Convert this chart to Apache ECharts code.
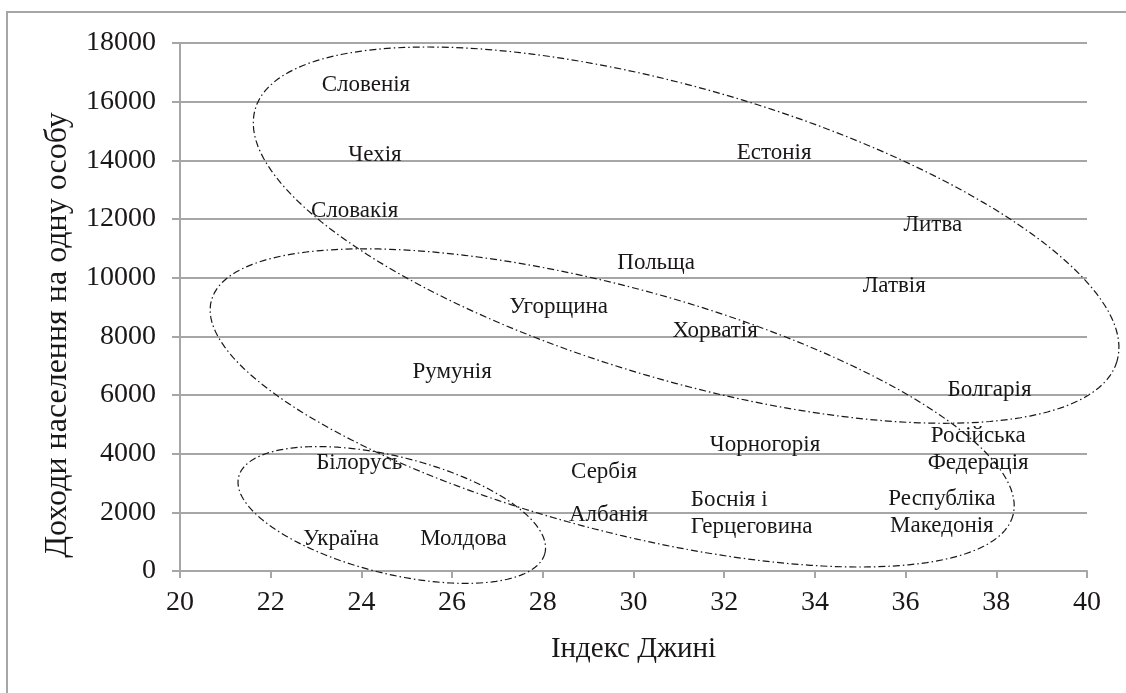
<!DOCTYPE html>
<html>
<head>
<meta charset="utf-8">
<script src="https://cdn.jsdelivr.net/npm/echarts@6/dist/echarts.min.js"></script>
<style>
html,body{margin:0;padding:0;background:#fff;}
#chart{width:1126px;height:693px;}
</style>
</head>
<body>
<div id="chart"></div>
<script>
// ---- data ----
var countries = ['Словенія','Чехія','Словакія','Естонія','Литва','Польща','Угорщина','Хорватія','Румунія','Латвія','Болгарія','Чорногорія','Російська\nФедерація','Сербія','Білорусь','Албанія','Україна','Молдова','Боснія і\nГерцеговина','Республіка\nМакедонія'];
var gini = [24.1, 24.3, 23.85, 33.1, 36.6, 30.5, 28.35, 31.8, 26.0, 35.75, 37.85, 32.9, 37.6, 29.35, 23.95, 29.45, 23.55, 26.25, 32.65, 36.8];
var income = [16570, 14200, 12270, 14250, 11800, 10500, 9000, 8180, 6780, 9720, 6170, 4300, 4140, 3380, 3680, 1910, 1090, 1090, 1960, 2010];
var xTicks = [20, 22, 24, 26, 28, 30, 32, 34, 36, 38, 40];
var yTicks = [0, 2000, 4000, 6000, 8000, 10000, 12000, 14000, 16000, 18000];
// group ellipses (annotation): centre in data units, semi-axes in Gini units, tilt in degrees
var ellipseCx = [31.16, 29.53, 24.67];
var ellipseCy = [11450, 5560, 1910];
var ellipseA = [9.90, 9.15, 3.48];
var ellipseB = [3.21, 2.68, 1.29];
var ellipseTilt = [16.3, 15.0, 14.0];

var FONT = "'Liberation Serif', 'Times New Roman', serif";
var GRAY = '#a6a6a6';
var INK = '#1a1718';

var points = countries.map(function (c, i) {
  var d = { name: c, value: [gini[i], income[i]] };
  if (c.indexOf('Боснія') === 0) {
    d.label = { align: 'left', offset: [-63, 0] };
  }
  return d;
});

var chart = echarts.init(document.getElementById('chart'), null, { renderer: 'canvas' });
chart.setOption({
  animation: false,
  backgroundColor: '#fff',
  grid: { left: 180, right: 39, top: 43, bottom: 122, containLabel: false },
  xAxis: {
    type: 'value', min: xTicks[0], max: xTicks[xTicks.length - 1], interval: 2,
    name: 'Індекс Джині', nameLocation: 'middle', nameGap: 64,
    nameTextStyle: { fontFamily: FONT, fontSize: 29, color: INK },
    axisLine: { show: true, lineStyle: { color: GRAY, width: 2 } },
    axisTick: { show: true, inside: false, length: 7, lineStyle: { color: GRAY, width: 2 } },
    axisLabel: { fontFamily: FONT, fontSize: 28, color: INK, margin: 18, formatter: function (v) { return String(v); } },
    splitLine: { show: false }
  },
  yAxis: {
    type: 'value', min: yTicks[0], max: yTicks[yTicks.length - 1], interval: 2000,
    name: 'Доходи населення на одну особу', nameLocation: 'middle', nameGap: 106,
    nameTextStyle: { fontFamily: FONT, fontSize: 32, color: INK, padding: [0, 56, 0, 0] },
    axisLine: { show: true, lineStyle: { color: GRAY, width: 2 } },
    axisTick: { show: true, inside: false, length: 8, lineStyle: { color: GRAY, width: 2 } },
    axisLabel: { fontFamily: FONT, fontSize: 28, color: INK, margin: 24, formatter: function (v) { return String(v); } },
    splitLine: { show: true, lineStyle: { color: GRAY, width: 2 } }
  },
  series: [{
    type: 'scatter',
    data: points,
    symbolSize: 1,
    itemStyle: { color: 'rgba(0,0,0,0)' },
    label: {
      show: true, position: 'inside', formatter: '{b}',
      fontFamily: FONT, fontSize: 23, color: INK, lineHeight: 27,
      textBorderWidth: 0, opacity: 1
    },
    z: 5
  }]
});

function drawExtras() {
  var els = [{
    type: 'rect', silent: true,
    shape: { x: 7, y: 12, width: 1300, height: 900 },
    style: { fill: 'none', stroke: GRAY, lineWidth: 2 }
  }];
  for (var k = 0; k < ellipseCx.length; k++) {
    var c = chart.convertToPixel({ gridIndex: 0 }, [ellipseCx[k], ellipseCy[k]]);
    var p0 = chart.convertToPixel({ gridIndex: 0 }, [20, 0]);
    var p1 = chart.convertToPixel({ gridIndex: 0 }, [21, 0]);
    var unit = p1[0] - p0[0];
    var a = ellipseA[k] * unit, b = ellipseB[k] * unit;
    var t = ellipseTilt[k] * Math.PI / 180;
    var pts = [];
    var n = 180;
    for (var i = 0; i < n; i++) {
      var u = i / n * Math.PI * 2;
      var ex = a * Math.cos(u), ey = b * Math.sin(u);
      pts.push([c[0] + ex * Math.cos(t) - ey * Math.sin(t), c[1] + ex * Math.sin(t) + ey * Math.cos(t)]);
    }
    els.push({
      type: 'polygon', silent: true, z: 10,
      shape: { points: pts },
      style: { fill: 'none', stroke: INK, lineWidth: 1.2, lineDash: [7, 3, 1.5, 3] }
    });
  }
  chart.setOption({ graphic: els });
}
drawExtras();
</script>
</body>
</html>
